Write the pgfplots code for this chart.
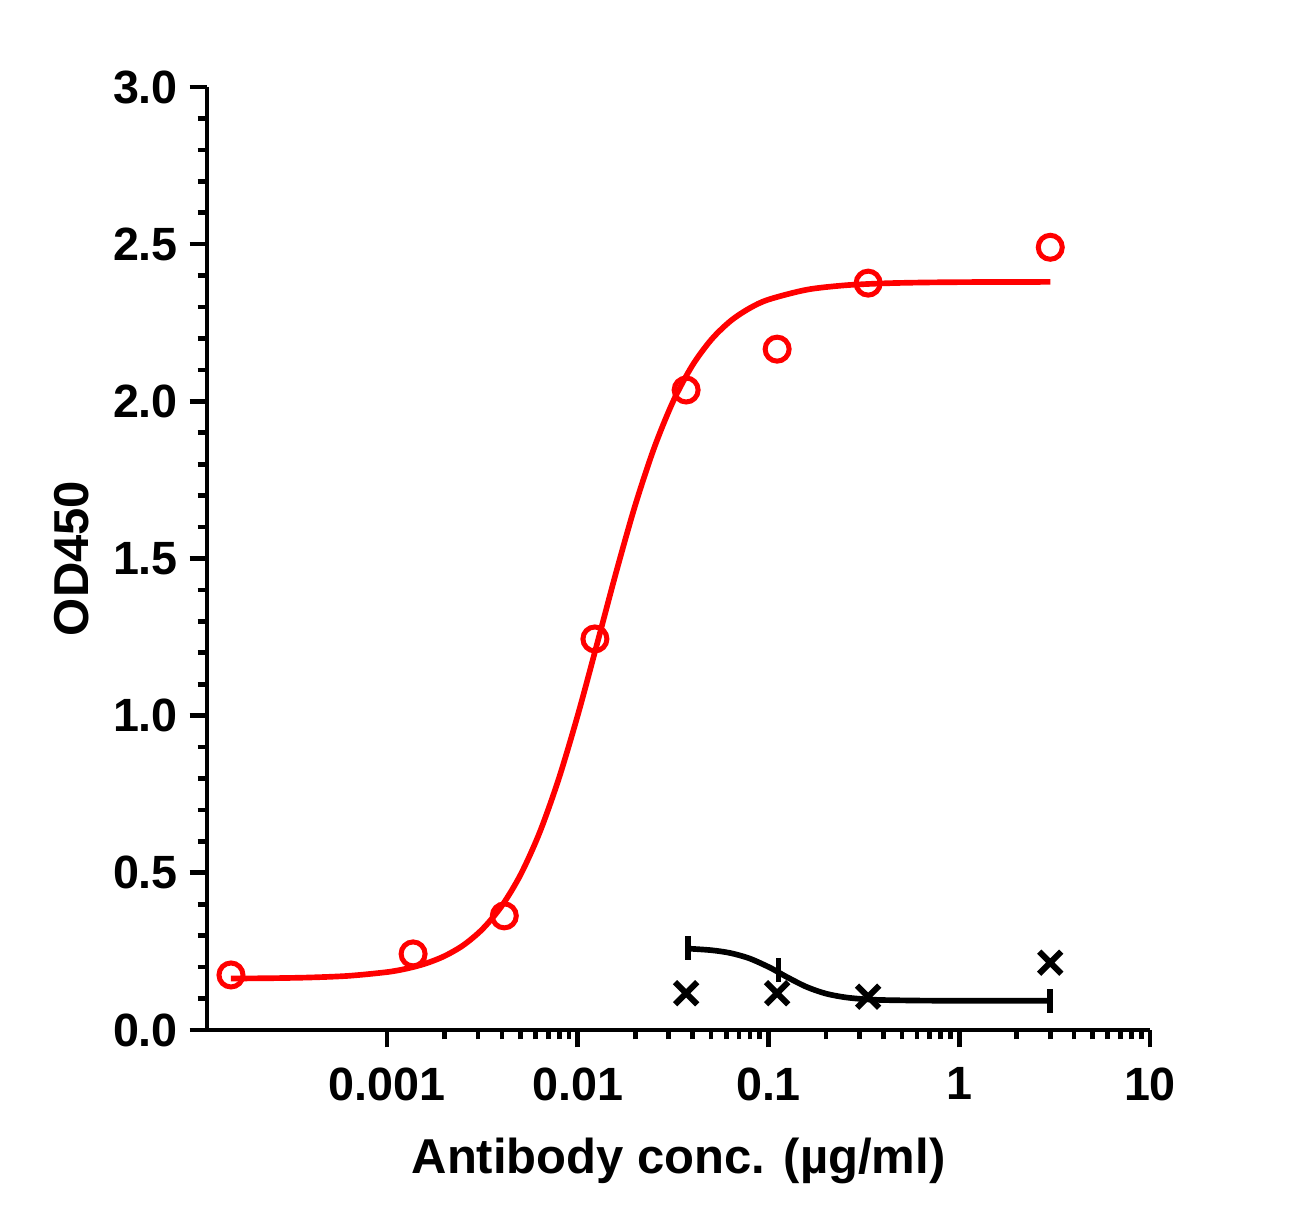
\documentclass[border=0pt]{standalone}
\usepackage{fontspec}
\setmainfont{Liberation Sans}
\usepackage{pgfplots}
\pgfplotsset{compat=1.18}

\begin{document}
\begin{tikzpicture}
\path[use as bounding box] (-62.1pt,-59.4pt) rectangle (328.8pt,309pt);
\begin{axis}[
    scale only axis,
    width=282.9pt, height=282.9pt,
    xmode=log,
    xmin=1.138e-4, xmax=10,
    ymin=0, ymax=3,
    axis lines*=left,
    axis line style={line width=1.4pt},
    tick style={line width=1.4pt, black},
    tick align=outside,
    major tick length=5.2pt,
    minor tick length=2.8pt,
    xtick={0.001,0.01,0.1,1,10},
    xticklabels={0.001,0.01,0.1,1,10},
    ytick={0,0.5,...,3},
    minor y tick num=4,
    yticklabel style={/pgf/number format/.cd,fixed,fixed zerofill,precision=1},
    xticklabel style={yshift=-2.5pt},
    /pgf/number format/assume math mode=true,
    tick label style={font=\fontsize{14}{16}\selectfont\bfseries},
    label style={font=\fontsize{14.7}{17}\selectfont\bfseries},
    xlabel={Antibody conc. (µg/ml)},
    ylabel={OD450},
    xlabel style={at={(axis description cs:0.5,0)}, anchor=base, yshift=-43.2pt},
    ylabel style={at={(axis description cs:0,0.5)}, anchor=center, yshift=40.5pt},
    clip=false,
]
% x axis runs on a little past the y axis, as in the original
\draw[line width=1.4pt] (rel axis cs:0,0) -- ++(-5.2pt,0);
% fitted curve, antigen
\addplot[red, line width=1.7pt, smooth] coordinates {
    (0.000152,0.1637) (0.000251,0.1648) (0.000398,0.1671) (0.000631,0.1723)
    (0.001,0.1842) (0.001259,0.1949) (0.001585,0.2109) (0.001995,0.2347)
    (0.002512,0.2697) (0.003162,0.3207) (0.003981,0.3932) (0.005012,0.4938)
    (0.00631,0.6281) (0.007943,0.7984) (0.01,1.0015) (0.01259,1.2256)
    (0.01585,1.4535) (0.01995,1.6668) (0.02512,1.8510) (0.03162,1.9998)
    (0.03981,2.1133) (0.05012,2.1962) (0.0631,2.2552) (0.07943,2.2958)
    (0.1,2.3237) (0.1585,2.3550) (0.2512,2.3690) (0.3981,2.3752)
    (0.631,2.3779) (1,2.3791) (1.585,2.3796) (3,2.3799)
};
\addplot[red, only marks, mark=o, mark size=3.6pt, line width=1.5pt] coordinates {
    (0.000152,0.175) (0.00137,0.242) (0.00412,0.363) (0.0123,1.244)
    (0.037,2.036) (0.111,2.166) (0.333,2.376) (3,2.490)
};
% fitted curve, control
\addplot[black, line width=1.7pt, smooth] coordinates {
    (0.0378,0.2589) (0.0501,0.2538) (0.0631,0.2448) (0.0794,0.2278)
    (0.1,0.2007) (0.1122,0.1843) (0.1259,0.1673) (0.1585,0.1369)
    (0.1995,0.1159) (0.2512,0.1041) (0.3162,0.0981) (0.3981,0.0953)
    (0.631,0.0935) (1,0.0931) (3,0.0930)
};
\addplot[black, only marks, mark=|, mark size=3.6pt, line width=1.7pt] coordinates {
    (0.0378,0.260) (0.113,0.190) (3,0.092)
};
\addplot[black, only marks, mark=x, mark size=4.7pt, line width=1.8pt] coordinates {
    (0.037,0.117) (0.111,0.117) (0.333,0.106) (3,0.214)
};
\end{axis}
\end{tikzpicture}
\end{document}
